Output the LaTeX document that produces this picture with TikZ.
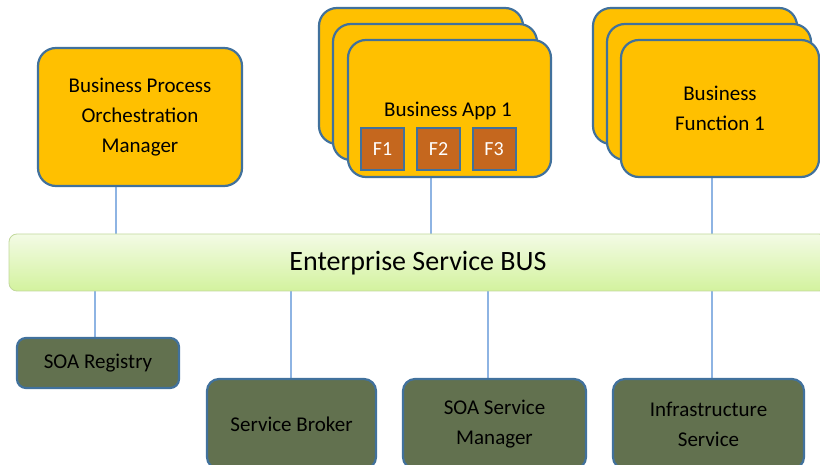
\documentclass[tikz,border=0pt]{standalone}
\usepackage{fontspec}
\setmainfont{Carlito}
\usetikzlibrary{backgrounds}
\definecolor{orng}{HTML}{FFC000}
\definecolor{bordblue}{HTML}{41719C}
\definecolor{rust}{RGB}{197,103,30}
\definecolor{olivebox}{RGB}{98,113,79}
\definecolor{lineblue}{HTML}{8EB4E3}
\definecolor{bustop}{HTML}{F3FBE5}
\definecolor{busbot}{HTML}{D3F29E}
\definecolor{busborder}{HTML}{C2D89C}
\begin{document}
\begin{tikzpicture}[x=1pt,y=-1pt,
  orangebox/.style={draw=bordblue, fill=orng, line width=2.2pt, rounded corners=18pt, inner sep=0pt, align=center, font=\fontsize{21}{30}\selectfont},
  fbox/.style={draw=bordblue, fill=rust, line width=2pt, inner sep=0pt, minimum width=43pt, minimum height=42pt, text=white, font=\fontsize{20}{22}\selectfont},
  greenbox/.style={draw=bordblue, fill=olivebox, line width=2.2pt, rounded corners=12pt, inner sep=0pt, align=center, font=\fontsize{21}{30}\selectfont},
  txt/.style={inner sep=0pt, align=center, font=\fontsize{21}{30}\selectfont},
  conn/.style={draw=lineblue, line width=1.2pt}]
\useasboundingbox (0,0) rectangle (820,465);
\clip (0,0) rectangle (820,465);

% top row
\node[orangebox, minimum width=204pt, minimum height=138pt] (bpom) at (140,117) {Business Process\\Orchestration\\Manager};

\node[orangebox, minimum width=204pt, minimum height=136pt] (appC) at (421,76) {};
\node[orangebox, minimum width=204pt, minimum height=136pt] (appB) at (435,92) {};
\node[orangebox, minimum width=203pt, minimum height=137pt] (appA) at (449.5,108.5) {};
\node[txt] (apptitle) at (448,111) {Business App 1};
\node[fbox] (f1) at (382.5,149) {F1};
\node[fbox] (f2) at (438.5,149) {F2};
\node[fbox] (f3) at (494,149) {F3};

\node[orangebox, minimum width=204pt, minimum height=136pt] (funC) at (695,76) {};
\node[orangebox, minimum width=204pt, minimum height=136pt] (funB) at (709,92) {};
\node[orangebox, minimum width=198pt, minimum height=137pt] (funA) at (720,108.5) {Business\\Function 1};

% bus
\node[draw=busborder, line width=0.8pt, top color=bustop, bottom color=busbot, rounded corners=8pt, inner sep=0pt, minimum width=818pt, minimum height=57pt] (bus) at (418,262.5) {};
\node[inner sep=0pt, font=\fontsize{28}{32}\selectfont] (bustext) at (418,263) {Enterprise Service BUS};

% bottom row
\node[greenbox, rounded corners=9pt, minimum width=162pt, minimum height=50pt] (reg) at (98,363) {SOA Registry};
\node[greenbox, minimum width=169pt, minimum height=90pt] (broker) at (291.5,424) {Service Broker};
\node[greenbox, minimum width=183pt, minimum height=90pt] (mgr) at (494.5,424) {SOA Service\\Manager};
\node[greenbox, minimum width=191pt, minimum height=90pt] (infra) at (708.5,424) {Infrastructure\\Service};

% connectors
\coordinate (x1) at (116,0);
\coordinate (x2) at (431,0);
\coordinate (x3) at (712,0);
\coordinate (x4) at (95,0);
\coordinate (x5) at (291,0);
\coordinate (x6) at (488,0);
\coordinate (x7) at (712,0);
\begin{pgfonlayer}{background}
\draw[conn] (bpom.south -| x1) -- (bus.north -| x1);
\draw[conn] (appA.south -| x2) -- (bus.north -| x2);
\draw[conn] (funA.south -| x3) -- (bus.north -| x3);
\draw[conn] (bus.south -| x4) -- (reg.north -| x4);
\draw[conn] (bus.south -| x5) -- (broker.north -| x5);
\draw[conn] (bus.south -| x6) -- (mgr.north -| x6);
\draw[conn] (bus.south -| x7) -- (infra.north -| x7);
\end{pgfonlayer}
\end{tikzpicture}
\end{document}
